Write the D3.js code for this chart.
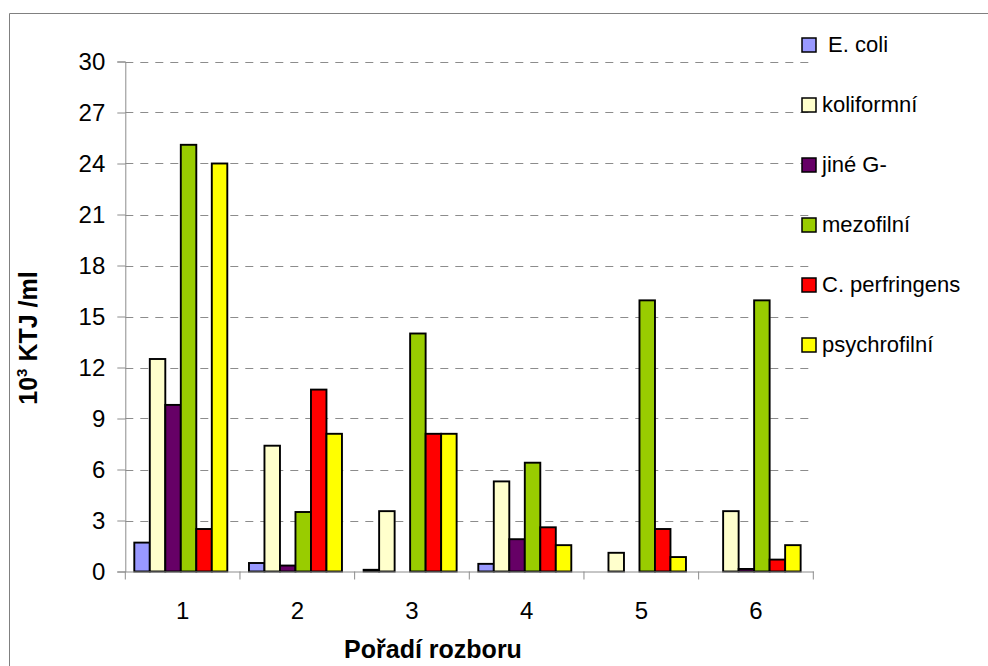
<!DOCTYPE html>
<html>
<head>
<meta charset="utf-8">
<script src="https://cdn.jsdelivr.net/npm/d3@7"></script>
<style>
  html, body { margin: 0; padding: 0; background: #fff; }
  svg { display: block; font-family: "Liberation Sans", Arial, sans-serif; }
</style>
</head>
<body>
<svg id="chart" width="988" height="666"></svg>
<script>
// Analysis order (x categories)
const categories = ["1", "2", "3", "4", "5", "6"];

// Counts in 10^3 KTJ/ml; null = not detected (no bar)
const eColi        = [1.7, 0.5, 0.1, 0.45, null, null];
const koliformni   = [12.5, 7.4, 3.55, 5.3, 1.1, 3.55];
const jineG        = [9.8, 0.35, null, 1.9, null, 0.15];
const mezofilni    = [25.1, 3.5, 14.0, 6.4, 15.95, 15.95];
const cPerfringens = [2.5, 10.7, 8.1, 2.6, 2.5, 0.7];
const psychrofilni = [24.0, 8.1, 8.1, 1.55, 0.85, 1.55];

const seriesNames  = [" E. coli", "koliformní", "jiné G-", "mezofilní", "C. perfringens", "psychrofilní"];
const seriesColors = ["#9999ff", "#ffffcc", "#660066", "#99cc00", "#ff0000", "#ffff00"];
const yTicks = [0, 3, 6, 9, 12, 15, 18, 21, 24, 27, 30];

const seriesValues = [eColi, koliformni, jineG, mezofilni, cPerfringens, psychrofilni];
const series = seriesNames.map((name, i) => ({ name, color: seriesColors[i], values: seriesValues[i] }));

const svg = d3.select("#chart");

// outer chart frame (continues past the right and bottom edges)
svg.append("path")
  .attr("d", "M9.5,700 V13.5 H1000")
  .attr("fill", "none")
  .attr("stroke", "#808080")
  .attr("stroke-width", 1);

const plot = { left: 125.3, right: 813.3, top: 61.5, bottom: 571.5 };

const x0 = d3.scaleBand().domain(categories).range([plot.left, plot.right]).padding(0);
const x1 = d3.scaleBand().domain(d3.range(series.length)).range([9, 102]).padding(0);
const y = d3.scaleLinear().domain([0, 30]).range([plot.bottom, plot.top]);

// dashed horizontal gridlines
svg.append("g")
  .selectAll("line")
  .data(yTicks.filter(t => t > 0))
  .join("line")
  .attr("x1", plot.left).attr("x2", plot.right)
  .attr("y1", d => Math.round(y(d)) + 0.5).attr("y2", d => Math.round(y(d)) + 0.5)
  .attr("stroke", "#8c8c8c")
  .attr("stroke-width", 1.2)
  .attr("stroke-dasharray", "8,7");

// y axis
const yAxis = svg.append("g")
  .attr("transform", `translate(${plot.left},0)`)
  .call(d3.axisLeft(y).tickValues(yTicks).tickSize(8).tickPadding(12).tickFormat(d3.format("d")));
yAxis.select(".domain").attr("stroke", "#8c8c8c");
yAxis.selectAll(".tick line").attr("stroke", "#8c8c8c");
yAxis.selectAll(".tick text")
  .attr("font-size", 24)
  .attr("fill", "#000")
  .attr("font-family", "Liberation Sans, Arial, sans-serif");

// bars
const groups = svg.append("g")
  .selectAll("g")
  .data(categories)
  .join("g")
  .attr("transform", d => `translate(${x0(d)},0)`);

groups.selectAll("rect")
  .data((d, ci) => series.map((s, si) => ({ si, v: s.values[ci], color: s.color })).filter(b => b.v !== null))
  .join("rect")
  .attr("x", d => x1(d.si))
  .attr("width", x1.bandwidth())
  .attr("y", d => y(d.v))
  .attr("height", d => y(0) - y(d.v))
  .attr("fill", d => d.color)
  .attr("stroke", "#000")
  .attr("stroke-width", 1.9);

// x axis
const xAxis = svg.append("g")
  .attr("transform", `translate(0,${plot.bottom})`)
  .call(d3.axisBottom(x0).tickSize(0).tickPadding(30));
xAxis.select(".domain").attr("stroke", "#8c8c8c");
xAxis.selectAll(".tick text")
  .attr("font-size", 24)
  .attr("fill", "#000")
  .attr("font-family", "Liberation Sans, Arial, sans-serif");
// category boundary ticks
svg.append("g")
  .selectAll("line")
  .data(d3.range(categories.length + 1))
  .join("line")
  .attr("x1", i => plot.left + i * x0.step()).attr("x2", i => plot.left + i * x0.step())
  .attr("y1", plot.bottom).attr("y2", plot.bottom + 8)
  .attr("stroke", "#8c8c8c");

// axis titles
svg.append("text")
  .attr("x", 433).attr("y", 658)
  .attr("text-anchor", "middle")
  .attr("font-size", 25)
  .attr("font-weight", "bold")
  .text("Pořadí rozboru");

const yTitle = svg.append("text")
  .attr("transform", "translate(37,338) rotate(-90)")
  .attr("text-anchor", "middle")
  .attr("font-size", 25)
  .attr("font-weight", "bold");
yTitle.append("tspan").text("10");
yTitle.append("tspan").attr("font-size", 15).attr("dy", -10).text("3");
yTitle.append("tspan").attr("dy", 10).text(" KTJ /ml");

// legend
const legend = svg.append("g")
  .selectAll("g")
  .data(series)
  .join("g")
  .attr("transform", (d, i) => `translate(802,${38 + i * 60})`);
legend.append("rect")
  .attr("width", 14).attr("height", 14)
  .attr("fill", d => d.color)
  .attr("stroke", "#000")
  .attr("stroke-width", 1.5);
legend.append("text")
  .attr("x", 20).attr("y", 14)
  .attr("font-size", 22)
  .style("white-space", "pre")
  .text(d => d.name);
</script>
</body>
</html>
